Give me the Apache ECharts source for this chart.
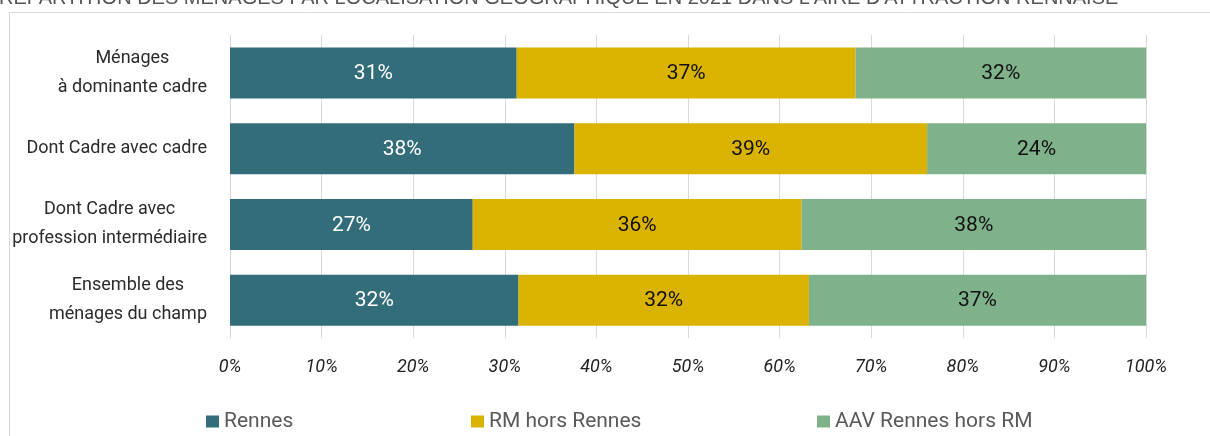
<!DOCTYPE html>
<html>
<head>
<meta charset="utf-8">
<script src="https://cdn.jsdelivr.net/npm/echarts@6/dist/echarts.min.js"></script>
<style>
  html, body { margin: 0; padding: 0; background: #fff; }
  #chart { width: 1210px; height: 436px; }
</style>
</head>
<body>
<div id="chart"></div>
<script>
// categories, top to bottom
var categories = ['Ménages\nà dominante cadre', 'Dont Cadre avec cadre', 'Dont Cadre avec\nprofession intermédiaire', 'Ensemble des\nménages du champ'];
var seriesNames = ['Rennes', 'RM hors Rennes', 'AAV Rennes hors RM'];
// shares in %
var rennes = [31.3, 37.6, 26.5, 31.5];
var rmHorsRennes = [37.0, 38.5, 35.9, 31.7];
var aavHorsRm = [31.7, 23.9, 37.6, 36.8];
var colors = ['#336d7a', '#d9b300', '#7fb28a'];
var labelColors = ['#ffffff', '#111111', '#111111'];

var dom = document.getElementById('chart');
var myChart = echarts.init(dom);
var font = 'Roboto, "Noto Sans", sans-serif';

var values = [rennes, rmHorsRennes, aavHorsRm];
var series = seriesNames.map(function (name, i) {
    return {
        name: name,
        type: 'bar',
        stack: 'total',
        barWidth: 51,
        data: values[i],
        itemStyle: { color: colors[i] },
        label: {
            show: true,
            position: 'inside',
            offset: [0, 1],
            color: labelColors[i],
            fontFamily: font,
            fontSize: 21,
            formatter: function (p) { return Math.round(p.value) + '%'; }
        }
    };
});

var legendLeft = [201, 466, 812];
var legends = seriesNames.map(function (name, i) {
    return {
        data: [name],
        left: legendLeft[i],
        top: 406,
        itemWidth: 13,
        itemHeight: 12,
        itemGap: 8,
        icon: 'rect',
        textStyle: { color: '#595959', fontSize: 21, fontFamily: font }
    };
});

option = {
    animation: false,
    graphic: [
        {
            type: 'text', left: -1, top: -12,
            style: {
                text: "RÉPARTITION DES MÉNAGES PAR LOCALISATION GÉOGRAPHIQUE EN 2021 DANS L'AIRE D'ATTRACTION RENNAISE",
                fill: '#555', font: '20px "Liberation Sans", Arial, sans-serif'
            }
        },
        { type: 'line', shape: { x1: 9, y1: 12.5, x2: 1210, y2: 12.5 }, style: { stroke: '#d9d9d9', lineWidth: 1 } },
        { type: 'line', shape: { x1: 9.5, y1: 12, x2: 9.5, y2: 436 }, style: { stroke: '#d9d9d9', lineWidth: 1 } }
    ],
    legend: legends,
    grid: { left: 230, right: 64, top: 35, bottom: 98, containLabel: false, outerBoundsMode: 'none' },
    xAxis: {
        type: 'value',
        min: 0,
        max: 100,
        interval: 10,
        axisLine: { show: false },
        axisTick: { show: false },
        splitLine: { lineStyle: { color: '#d9d9d9' } },
        axisLabel: {
            formatter: '{value}%',
            margin: 20,
            fontStyle: 'italic',
            fontSize: 18,
            color: '#222',
            fontFamily: font
        }
    },
    yAxis: {
        type: 'category',
        inverse: true,
        data: categories,
        axisLine: { show: true, lineStyle: { color: '#d9d9d9' } },
        axisTick: { show: false },
        axisLabel: {
            margin: 23,
            align: 'right',
            // block right-aligned, lines centred inside it
            formatter: function (v) {
                return v.split('\n').map(function (l) { return '{c|' + l + '}'; }).join('\n');
            },
            rich: {
                c: {
                    align: 'center',
                    fontSize: 18,
                    lineHeight: 29,
                    color: '#2b2b2b',
                    fontFamily: font
                }
            }
        }
    },
    series: series
};
myChart.setOption(option);
</script>
</body>
</html>
